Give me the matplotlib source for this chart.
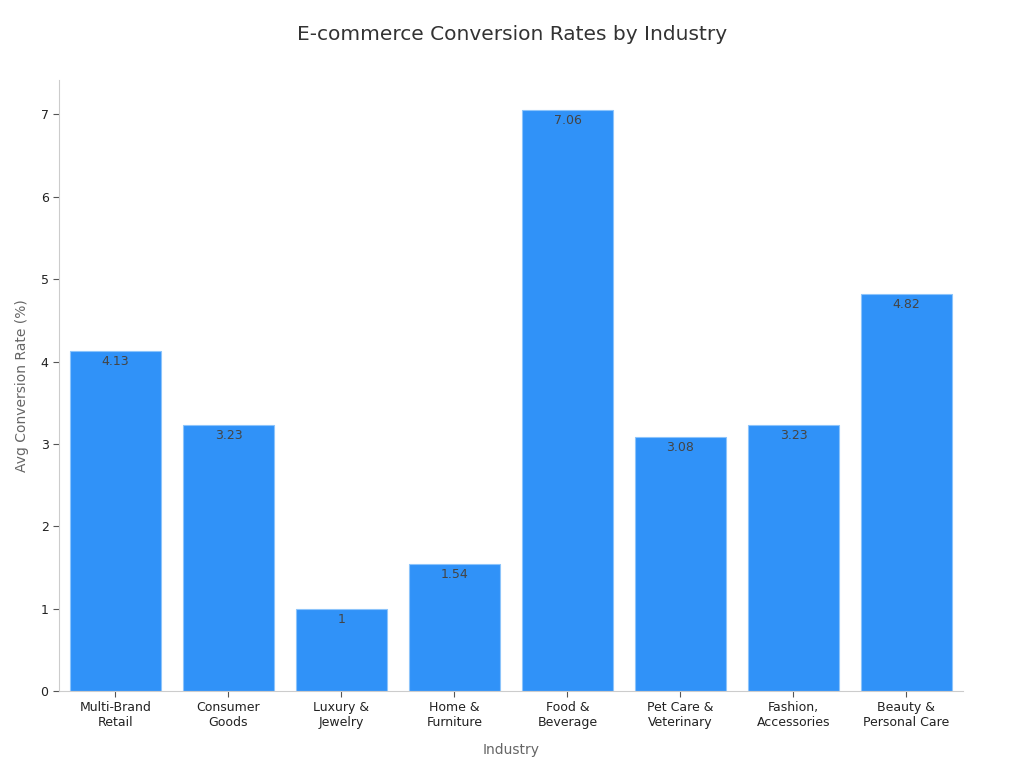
import matplotlib
matplotlib.use('Agg')
import matplotlib.pyplot as plt

industries = ['Multi-Brand\nRetail', 'Consumer\nGoods', 'Luxury &\nJewelry', 'Home &\nFurniture',
              'Food &\nBeverage', 'Pet Care &\nVeterinary', 'Fashion,\nAccessories', 'Beauty &\nPersonal Care']
rates = [4.13, 3.23, 1, 1.54, 7.06, 3.08, 3.23, 4.82]
rate_labels = ['4.13', '3.23', '1', '1.54', '7.06', '3.08', '3.23', '4.82']

fig = plt.figure(figsize=(10.24, 7.68), dpi=100)
ax = fig.add_axes([0.0576, 0.1003, 0.8828, 0.7957])

x = range(len(industries))
bars = ax.bar(x, rates, width=0.8, color='#3092f8', edgecolor='#8cc4fb', linewidth=0.8)
for xi, v, lab in zip(x, rates, rate_labels):
    ax.text(xi, v - 0.05, lab, ha='center', va='top', fontsize=9, color='#444444')

ax.set_xlim(-0.5, 7.5)
ax.set_ylim(0, 7.42)
ax.set_xticks(list(x))
ax.set_xticklabels(industries, fontsize=9)
ax.tick_params(axis='y', labelsize=9)
ax.tick_params(colors='#555555', length=4)
for lab in ax.get_yticklabels() + ax.get_xticklabels():
    lab.set_color('#222222')

for s in ['top', 'right']:
    ax.spines[s].set_visible(False)
for s in ['left', 'bottom']:
    ax.spines[s].set_color('#cccccc')

ax.set_xlabel('Industry', fontsize=10, color='#666666', labelpad=10)
ax.set_ylabel('Avg Conversion Rate (%)', fontsize=10, color='#666666', labelpad=8)
fig.suptitle('E-commerce Conversion Rates by Industry', fontsize=14.5, color='#333333', y=0.968)

plt.savefig('out.png', dpi=100)
